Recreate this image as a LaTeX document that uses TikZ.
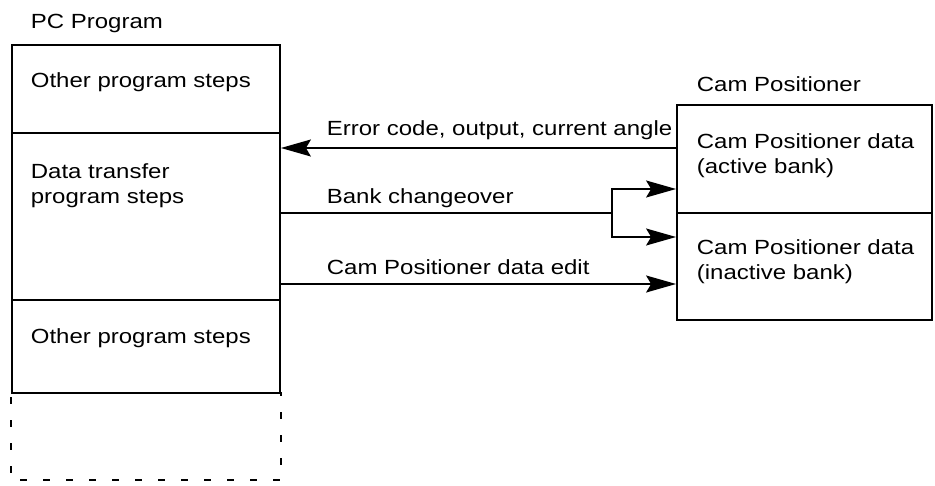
\documentclass[tikz,border=0pt]{standalone}
\usepackage{fontspec}
\setmainfont{Liberation Sans}[FakeStretch=1.17]
\usetikzlibrary{arrows.meta,positioning,calc}

\begin{document}
\begin{tikzpicture}[x=1pt, y=-1pt, line width=1.8pt, font=\fontsize{20.5}{25}\selectfont,
   blk/.style={draw, rectangle, inner sep=0pt, minimum width=268pt},
   txt/.style={anchor=base west, inner sep=0pt, align=left},
   flow/.style={-{Stealth[length=30pt,width=17pt,inset=5pt]}}]
   \useasboundingbox (0,0) rectangle (935,485);
   % PC program column
   \node[txt] (pclabel) at (30,28) {PC Program};
   \node[blk, minimum height=88pt] (other1) at (146,89) {};
   \node[blk, minimum height=167pt] (xfer) at (146,216.5) {};
   \node[blk, minimum height=93pt] (other2) at (146,346.5) {};
   \node[blk, draw=none, minimum height=86pt] (rest) at (146,436) {};
   \draw[dash pattern=on 7pt off 16pt, dash phase=-5pt] (rest.north west) -- (rest.south west) -- (rest.south east) -- (rest.north east);
   \node[txt] at (30,87) {Other program steps};
   \node[txt] at (30,178) {Data transfer};
   \node[txt] at (30,203) {program steps};
   \node[txt] at (30,343) {Other program steps};
   % Cam Positioner column
   \node[txt] (camlabel) at (696,91) {Cam Positioner};
   \node[blk, minimum width=255pt, minimum height=108pt] (active) at (804.5,159) {};
   \node[blk, minimum width=255pt, minimum height=107pt] (inactive) at (804.5,266.5) {};
   \node[txt] at (696,148) {Cam Positioner data};
   \node[txt] at (696,173) {(active bank)};
   \node[txt] at (696,254) {Cam Positioner data};
   \node[txt] at (696,279) {(inactive bank)};
   % connectors
   \coordinate (split) at (612,213);
   \draw[flow] (active.west |- 0,148) -- (xfer.east |- 0,148);
   \draw (xfer.east |- split) -- (split);
   \draw[flow] (split) |- (active.west |- 0,189);
   \draw[flow] (split) |- (inactive.west |- 0,237);
   \draw[flow] (xfer.east |- 0,284) -- (inactive.west |- 0,284);
   \node[txt] at (326,135) {Error code, output, current angle};
   \node[txt] at (326,203) {Bank changeover};
   \node[txt] at (326,274) {Cam Positioner data edit};
\end{tikzpicture}
\end{document}
